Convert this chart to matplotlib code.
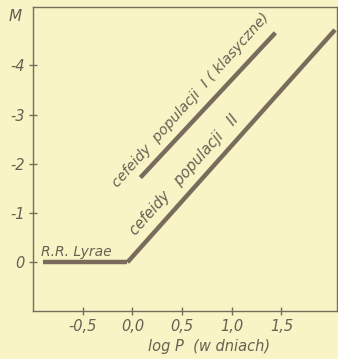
import matplotlib
matplotlib.use("Agg")
import matplotlib.pyplot as plt
import numpy as np

# okresy (log P) i jasnosci absolutne M
rr_logp = [-0.90, -0.05]
rr_m = [0.0, 0.0]
pop2_logp = [-0.05, 2.04]
pop2_m = [0.0, -4.72]
pop1_logp = [0.08, 1.44]
pop1_m = [-1.72, -4.66]

xticks = [-0.5, 0.0, 0.5, 1.0, 1.5]
xticklabels = ["-0,5", "0,0", "0,5", "1,0", "1,5"]
yticks = [0, -1, -2, -3, -4]
yticklabels = ["0", "-1", "-2", "-3", "-4"]

bg = "#f8f4c6"
ink = "#7a6c5c"
txt = "#6b5f52"

plt.rcParams['font.family'] = ['DejaVu Sans']
fig = plt.figure(figsize=(3.38, 3.59), dpi=100, facecolor=bg)
ax = fig.add_axes([0.098, 0.135, 0.899, 0.845], facecolor=bg)

ax.plot(rr_logp, rr_m, color=ink, lw=3.2, solid_capstyle='butt')
ax.plot(pop2_logp, pop2_m, color=ink, lw=3.2, solid_capstyle='butt')
ax.plot(pop1_logp, pop1_m, color=ink, lw=3.2, solid_capstyle='butt')

ax.set_xlim(-1.0, 2.06)
ax.set_ylim(0.98, -5.18)

for s in ax.spines.values():
    s.set_color(ink)
    s.set_linewidth(1.0)

ax.set_xticks(xticks)
ax.set_xticklabels(xticklabels, fontstyle='italic')
ax.set_yticks(yticks)
ax.set_yticklabels(yticklabels, fontstyle='italic')
ax.tick_params(direction='inout', length=6, width=1, colors=ink,
               labelcolor=txt, labelsize=10.5, pad=3)

# kat nachylenia linii w pikselach
fig.canvas.draw()
p0 = ax.transData.transform((pop2_logp[0], pop2_m[0]))
p1 = ax.transData.transform((pop2_logp[1], pop2_m[1]))
ang = np.degrees(np.arctan2(p1[1] - p0[1], p1[0] - p0[0]))

ax.text(-0.92, -0.07, "R.R. Lyrae", color=txt, fontsize=10, style='italic',
        ha='left', va='bottom')
ax.text(0.06, -0.5, "cefeidy   populacji   II", color=txt, fontsize=10.5,
        style='italic', rotation=ang, rotation_mode='anchor',
        ha='left', va='bottom')
ax.text(-0.13, -1.47, "cefeidy  populacji  I ( klasyczne)", color=txt,
        fontsize=10.3, style='italic', rotation=ang, rotation_mode='anchor',
        ha='left', va='bottom')

fig.text(0.045, 0.955, "M", color=txt, fontsize=11, style='italic',
         ha='center', va='center')
fig.text(0.62, 0.035, "log P  (w dniach)", color=txt, fontsize=10.5,
         style='italic', ha='center', va='center')

fig.savefig("out.png", dpi=100, facecolor=bg)
